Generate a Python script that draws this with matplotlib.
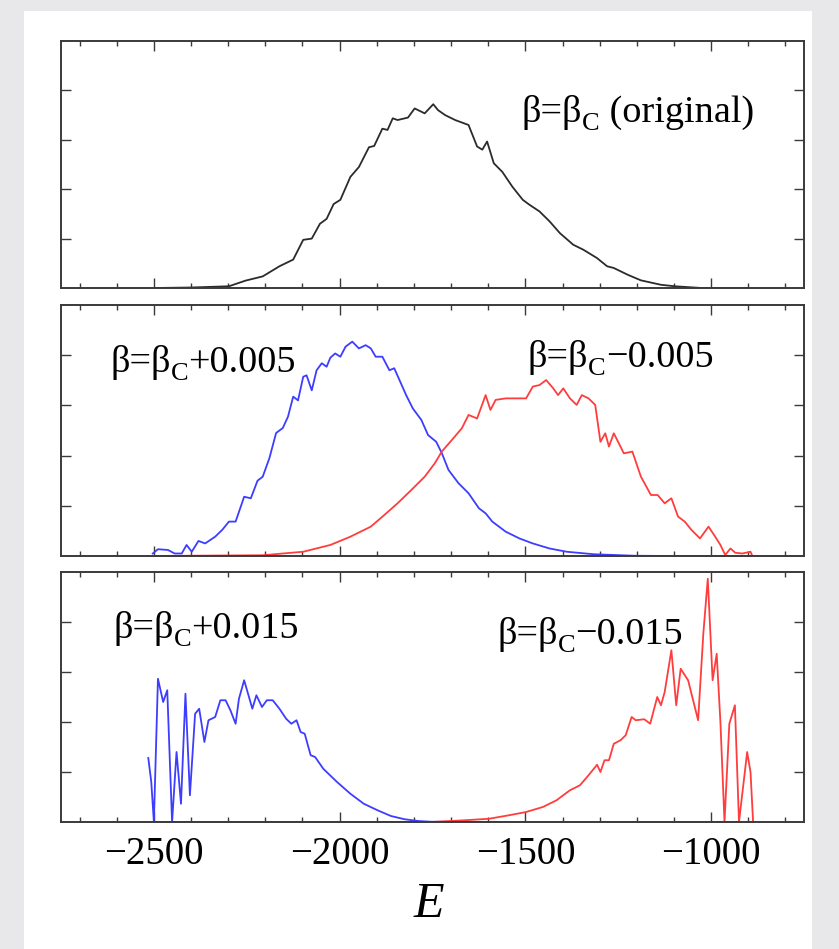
import matplotlib.pyplot as plt
from matplotlib.patches import Rectangle
from matplotlib.ticker import MultipleLocator, FixedLocator, NullFormatter

plt.rcParams['font.family'] = ['Liberation Serif', 'DejaVu Serif']

# panel 1: beta = beta_c (original)
e_orig = [-2500, -2400, -2298, -2253, -2207, -2162, -2125, -2098, -2075, -2053,
          -2035, -2016, -1998, -1971, -1948, -1921, -1907, -1885, -1871, -1857,
          -1844, -1816, -1798, -1771, -1748, -1735, -1716, -1689, -1653, -1630,
          -1616, -1603, -1585, -1562, -1535, -1507, -1489, -1462, -1435, -1407,
          -1371, -1344, -1307, -1280, -1262, -1225, -1189, -1135, -1098, -1025,
          -950, -900]
p_orig = [0.0, 0.002, 0.007, 0.03, 0.047, 0.088, 0.115, 0.195, 0.2, 0.26,
          0.28, 0.34, 0.357, 0.45, 0.49, 0.57, 0.575, 0.645, 0.64, 0.687,
          0.68, 0.69, 0.727, 0.707, 0.744, 0.72, 0.70, 0.68, 0.66, 0.573,
          0.56, 0.593, 0.505, 0.47, 0.41, 0.357, 0.337, 0.31, 0.27, 0.222,
          0.175, 0.155, 0.121, 0.088, 0.081, 0.054, 0.031, 0.013, 0.007, 0.0,
          0.0, 0.0]

# panel 2: beta = beta_c + 0.005 (blue)
e_p005 = [-2503, -2489, -2462, -2444, -2425, -2412, -2398, -2380, -2362, -2335,
          -2316, -2298, -2280, -2257, -2239, -2221, -2207, -2189, -2171, -2153,
          -2139, -2125, -2112, -2098, -2089, -2075, -2062, -2048, -2035, -2025,
          -2012, -1998, -1984, -1966, -1948, -1930, -1916, -1903, -1885, -1866,
          -1853, -1835, -1821, -1803, -1780, -1762, -1740, -1725, -1707, -1680,
          -1653, -1625, -1607, -1589, -1553, -1516, -1480, -1435, -1389, -1316,
          -1207, -1100, -890]
p_p005 = [0.01, 0.027, 0.024, 0.01, 0.01, 0.044, 0.017, 0.06, 0.05, 0.077,
          0.104, 0.137, 0.137, 0.236, 0.23, 0.30, 0.316, 0.39, 0.49, 0.51,
          0.555, 0.635, 0.62, 0.714, 0.72, 0.66, 0.74, 0.768, 0.754, 0.79,
          0.807, 0.794, 0.834, 0.854, 0.827, 0.84, 0.827, 0.794, 0.794, 0.74,
          0.748, 0.688, 0.641, 0.588, 0.542, 0.482, 0.455, 0.41, 0.343, 0.29,
          0.25, 0.19, 0.17, 0.137, 0.097, 0.07, 0.05, 0.03, 0.017, 0.007,
          0.001, 0.0, 0.0]

# panel 2: beta = beta_c - 0.005 (red)
e_m005 = [-2507, -2207, -2098, -2025, -1971, -1916, -1880, -1844, -1807, -1771,
          -1744, -1725, -1698, -1671, -1653, -1630, -1607, -1594, -1580, -1553,
          -1525, -1498, -1480, -1462, -1444, -1425, -1412, -1398, -1380, -1362,
          -1348, -1330, -1312, -1298, -1285, -1275, -1262, -1235, -1212, -1189,
          -1162, -1144, -1125, -1107, -1089, -1071, -1053, -1030, -1007, -989,
          -975, -962, -948, -935, -916, -894, -889]
p_m005 = [0.0, 0.003, 0.017, 0.044, 0.077, 0.117, 0.163, 0.21, 0.263, 0.316,
          0.369, 0.416, 0.462, 0.509, 0.562, 0.548, 0.641, 0.582, 0.622, 0.628,
          0.628, 0.628, 0.675, 0.681, 0.701, 0.668, 0.641, 0.668, 0.628, 0.602,
          0.641, 0.628, 0.602, 0.455, 0.489, 0.436, 0.489, 0.409, 0.416, 0.316,
          0.243, 0.243, 0.21, 0.23, 0.157, 0.137, 0.104, 0.07, 0.117, 0.077,
          0.044, 0.004, 0.03, 0.013, 0.01, 0.017, 0.0]

# panel 3: beta = beta_c + 0.015 (blue)
e_p015 = [-2515, -2507, -2500, -2489, -2475, -2464, -2451, -2439, -2427, -2415,
          -2403, -2389, -2378, -2364, -2353, -2335, -2321, -2307, -2294, -2280,
          -2271, -2257, -2244, -2235, -2224, -2209, -2196, -2180, -2162, -2144,
          -2130, -2116, -2105, -2094, -2078, -2066, -2044, -2007, -1971, -1935,
          -1898, -1862, -1825, -1789, -1753, -1600, -890]
p_p015 = [0.256, 0.16, 0.0, 0.573, 0.48, 0.527, 0.0, 0.28, 0.073, 0.513,
          0.107, 0.433, 0.453, 0.32, 0.407, 0.42, 0.487, 0.487, 0.447, 0.393,
          0.493, 0.567, 0.5, 0.453, 0.507, 0.46, 0.487, 0.487, 0.453, 0.413,
          0.393, 0.407, 0.36, 0.353, 0.267, 0.26, 0.213, 0.16, 0.113, 0.073,
          0.047, 0.024, 0.011, 0.004, 0.001, 0.0, 0.0]

# panel 3: beta = beta_c - 0.015 (red)
e_m015 = [-2500, -1753, -1662, -1598, -1544, -1498, -1453, -1416, -1380, -1353,
          -1330, -1307, -1298, -1287, -1275, -1262, -1244, -1230, -1214, -1203,
          -1180, -1164, -1145, -1135, -1125, -1107, -1094, -1082, -1062, -1035,
          -1021, -1009, -996, -985, -975, -964, -951, -936, -925, -903,
          -894, -887]
p_m015 = [0.0, 0.0, 0.007, 0.013, 0.027, 0.04, 0.06, 0.087, 0.127, 0.147,
          0.187, 0.229, 0.2, 0.247, 0.247, 0.313, 0.327, 0.347, 0.42, 0.407,
          0.411, 0.393, 0.5, 0.467, 0.52, 0.687, 0.467, 0.613, 0.567, 0.407,
          0.753, 0.973, 0.567, 0.673, 0.4, 0.0, 0.393, 0.467, 0.0, 0.28,
          0.2, 0.0]

BLUE = '#3d3dff'
RED = '#ff3d3d'
BLACK = '#2b2b2b'
LW = 1.3
FS = 27.5

fig = plt.figure(figsize=(8.39, 9.49), dpi=100)
fig.patch.set_facecolor('#e8e8ea')
# white card behind the panels
fig.patches.append(Rectangle((24 / 839, 0), 788 / 839, 1 - 11 / 949,
                             transform=fig.transFigure, facecolor='white',
                             edgecolor='none', zorder=-10))

W, H = 839.0, 949.0
left, width = 61 / W, 743 / W
boxes = [(41, 288), (305, 556), (572, 822)]
axes = []
for top, bottom in boxes:
    ax = fig.add_axes([left, 1 - bottom / H, width, (bottom - top) / H])
    ax.set_zorder(5)
    ax.set_xlim(-2750, -750)
    ax.set_ylim(0, 1)
    ax.xaxis.set_major_locator(FixedLocator([-2500, -2000, -1500, -1000]))
    ax.xaxis.set_minor_locator(MultipleLocator(100))
    ax.yaxis.set_major_locator(FixedLocator([0.2, 0.4, 0.6, 0.8]))
    ax.yaxis.set_major_formatter(NullFormatter())
    ax.tick_params(which='both', direction='in', top=True, right=True,
                   color='#3a3a3a', width=1.0)
    ax.tick_params(which='major', length=7)
    ax.tick_params(which='minor', length=3.5)
    for s in ax.spines.values():
        s.set_color('#3a3a3a')
        s.set_linewidth(1.4)
    axes.append(ax)

ax1, ax2, ax3 = axes
for ax in (ax1, ax2):
    ax.xaxis.set_major_formatter(NullFormatter())
ax3.tick_params(axis='x', which='major', labelsize=28, pad=10)


def beta_label(ax, x, y, rest):
    # "β=β" + lowered small "C" + rest, chained so the C sits deep like the original
    t = ax.text(x, y, 'β=β', transform=ax.transAxes, fontsize=FS,
                ha='left', va='center')
    c = ax.annotate('C', xy=(1, 0), xycoords=t, fontsize=FS * 0.69,
                    ha='left', va='baseline')
    ax.annotate(rest, xy=(1, 0), xycoords=(c, t), fontsize=FS,
                ha='left', va='bottom')


ax1.plot(e_orig, p_orig, color=BLACK, lw=LW)
beta_label(ax1, 0.62, 0.71, ' (original)')

ax2.plot(e_p005, p_p005, color=BLUE, lw=LW)
ax2.plot(e_m005, p_m005, color=RED, lw=LW)
beta_label(ax2, 0.066, 0.77, '+0.005')
beta_label(ax2, 0.628, 0.79, '−0.005')

ax3.plot(e_p015, p_p015, color=BLUE, lw=LW)
ax3.plot(e_m015, p_m015, color=RED, lw=LW)
beta_label(ax3, 0.07, 0.776, '+0.015')
beta_label(ax3, 0.587, 0.748, '−0.015')

fig.text(429 / W, 1 - 905 / H, 'E', fontsize=36, style='italic',
         ha='center', va='center')

fig.savefig('out.png', dpi=100, facecolor=fig.get_facecolor())
